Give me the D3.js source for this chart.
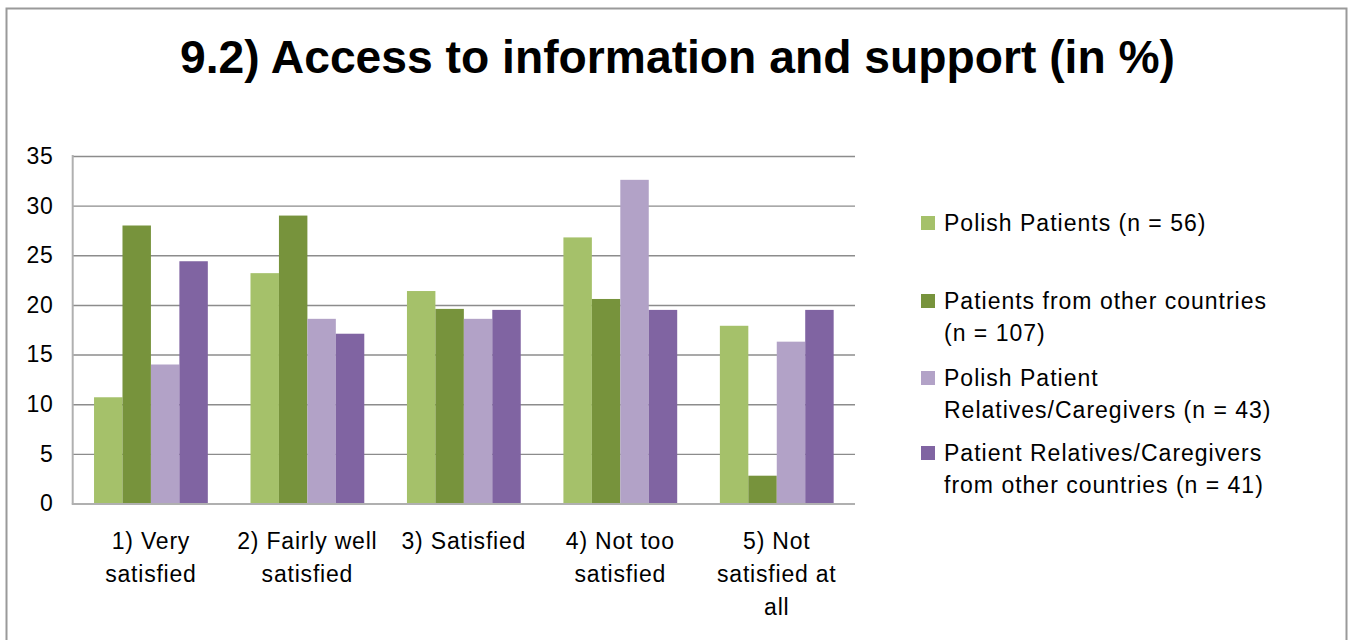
<!DOCTYPE html>
<html>
<head>
<meta charset="utf-8">
<script src="https://cdn.jsdelivr.net/npm/d3@7/dist/d3.min.js"></script>
<style>
  html, body { margin: 0; padding: 0; background: #fff; }
  svg { display: block; font-family: "Liberation Sans", Arial, sans-serif; }
</style>
</head>
<body>
<svg id="chart" width="1351" height="640"></svg>
<script>
// Survey categories (x axis), two-line labels
const categories = ["1) Very satisfied", "2) Fairly well satisfied", "3) Satisfied", "4) Not too satisfied", "5) Not satisfied at all"];
const categoryLines = [["1) Very", "satisfied"], ["2) Fairly well", "satisfied"], ["3) Satisfied"], ["4) Not too", "satisfied"], ["5) Not", "satisfied at", "all"]];

// Respondent groups and their shares (%) per category
const seriesNames = ["Polish Patients (n = 56)", "Patients from other countries (n = 107)", "Polish Patient Relatives/Caregivers (n = 43)", "Patient Relatives/Caregivers from other countries (n = 41)"];
const legendLines = [["Polish Patients (n = 56)"], ["Patients from other countries", "(n = 107)"], ["Polish Patient", "Relatives/Caregivers (n = 43)"], ["Patient Relatives/Caregivers", "from other countries (n = 41)"]];
const polishPatients = [10.7, 23.2, 21.4, 26.8, 17.9];
const otherPatients = [28.0, 29.0, 19.6, 20.6, 2.8];
const polishRelatives = [14.0, 18.6, 18.6, 32.6, 16.3];
const otherRelatives = [24.4, 17.1, 19.5, 19.5, 19.5];
const seriesValues = [polishPatients, otherPatients, polishRelatives, otherRelatives];
const colors = ["#a5c16a", "#77933c", "#b2a2c7", "#8064a2"];

const yTicks = [0, 5, 10, 15, 20, 25, 30, 35];
const title = "9.2) Access to information and support (in %)";

const svg = d3.select("#chart");

// Outer frame
svg.append("path")
  .attr("d", "M6.5,650 V8.5 H1346.5 V650")
  .attr("fill", "none").attr("stroke", "#9a9a9a").attr("stroke-width", 2);

// Title
svg.append("text")
  .attr("x", 180).attr("y", 73)
  .attr("textLength", 995).attr("lengthAdjust", "spacingAndGlyphs")
  .attr("font-size", 47).attr("font-weight", "bold").attr("fill", "#000")
  .text(title);

const plot = { left: 72.7, right: 855, top: 156, bottom: 503.5 };

const y = d3.scaleLinear().domain([0, 35]).range([plot.bottom, plot.top]);
const x0 = d3.scaleBand().domain(categories).range([plot.left, plot.right]).paddingInner(0).paddingOuter(0);
const gapRatio = 1.5; // gap between groups, in bar widths
const barW = x0.bandwidth() / (seriesNames.length + gapRatio);
const x1 = d3.scaleBand().domain(seriesNames)
  .range([barW * gapRatio / 2, barW * gapRatio / 2 + barW * seriesNames.length]);

// Gridlines
const grid = svg.append("g")
  .attr("transform", `translate(${plot.left},0)`)
  .call(d3.axisLeft(y).tickValues(yTicks.filter(d => d > 0)).tickSize(-(plot.right - plot.left)).tickFormat(""));
grid.select(".domain").remove();
grid.selectAll("line").attr("stroke", "#8c8c8c").attr("stroke-width", 1.4);

// Bars
const groups = svg.append("g").selectAll("g")
  .data(categories)
  .join("g")
  .attr("transform", d => `translate(${x0(d)},0)`);

groups.selectAll("rect")
  .data((c, ci) => seriesNames.map((s, si) => ({ s, si, v: seriesValues[si][ci] })))
  .join("rect")
  .attr("x", d => x1(d.s))
  .attr("width", x1.bandwidth())
  .attr("y", d => y(d.v))
  .attr("height", d => y(0) - y(d.v))
  .attr("fill", d => colors[d.si]);

// Y axis
const yAxis = svg.append("g")
  .attr("transform", `translate(${plot.left},0)`)
  .call(d3.axisLeft(y).tickValues(yTicks).tickSize(0).tickPadding(19));
yAxis.select(".domain").attr("stroke", "#b0b0b0").attr("stroke-width", 2)
  .attr("d", `M0,${plot.top - 1}V${plot.bottom}`);
yAxis.selectAll("text").attr("font-size", 23).attr("fill", "#000")
  .attr("letter-spacing", 0.8)
  .attr("font-family", "Liberation Sans, Arial, sans-serif");

// X axis baseline
svg.append("line")
  .attr("x1", plot.left - 1).attr("x2", plot.right)
  .attr("y1", plot.bottom + 0.5).attr("y2", plot.bottom + 0.5)
  .attr("stroke", "#b0b0b0").attr("stroke-width", 2);

// Category labels
const catLabels = svg.append("g").selectAll("text")
  .data(categories)
  .join("text")
  .attr("x", d => x0(d) + x0.bandwidth() / 2)
  .attr("y", 549)
  .attr("text-anchor", "middle")
  .attr("font-size", 23).attr("letter-spacing", 0.8).attr("fill", "#000");
catLabels.each(function (d, i) {
  d3.select(this).selectAll("tspan")
    .data(categoryLines[i])
    .join("tspan")
    .attr("x", x0(d) + x0.bandwidth() / 2)
    .attr("dy", (t, j) => j === 0 ? 0 : 33)
    .text(t => t);
});

// Legend
const legendY = [223, 301, 378, 453];
const legend = svg.append("g").selectAll("g")
  .data(seriesNames)
  .join("g")
  .attr("transform", (d, i) => `translate(921,${legendY[i]})`);
legend.append("rect")
  .attr("x", 0).attr("y", -7).attr("width", 14).attr("height", 14)
  .attr("fill", (d, i) => colors[i]);
legend.append("text")
  .attr("x", 23).attr("y", 8)
  .attr("font-size", 23).attr("letter-spacing", 1).attr("fill", "#000")
  .each(function (d, i) {
    d3.select(this).selectAll("tspan")
      .data(legendLines[i])
      .join("tspan")
      .attr("x", 23)
      .attr("dy", (t, j) => j === 0 ? 0 : 32)
      .text(t => t);
  });
</script>
</body>
</html>
